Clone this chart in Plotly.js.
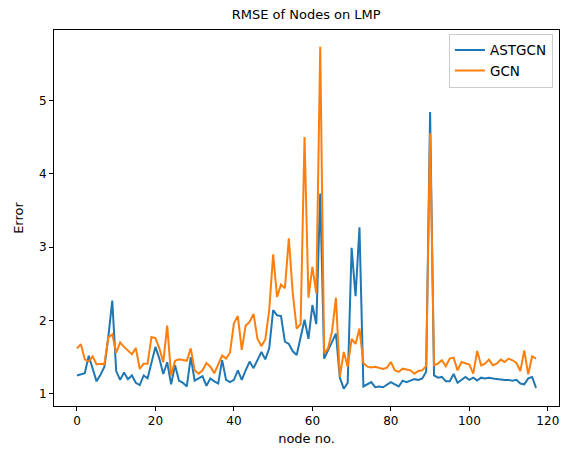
<!DOCTYPE html>
<html>
<head>
<meta charset="utf-8">
<script src="https://cdn.plot.ly/plotly-3.0.1.min.js"></script>
<style>html,body{margin:0;padding:0;background:#fff;}#chart{width:567px;height:450px;}</style>
</head>
<body>
<div id="chart"></div>
<script>
var seriesNames = ["ASTGCN", "GCN"];

var astgcn = [
  1.25, 1.26, 1.28, 1.52, 1.36, 1.17, 1.26, 1.37, 1.78, 2.27,
  1.31, 1.19, 1.29, 1.20, 1.25, 1.15, 1.12, 1.25, 1.21, 1.43,
  1.64, 1.48, 1.27, 1.43, 1.13, 1.39, 1.18, 1.15, 1.10, 1.50,
  1.18, 1.21, 1.24, 1.11, 1.21, 1.17, 1.14, 1.46, 1.19, 1.16,
  1.19, 1.32, 1.19, 1.32, 1.44, 1.35, 1.46, 1.57, 1.47, 1.62,
  2.14, 2.07, 2.06, 1.71, 1.68, 1.58, 1.53, 1.75, 2.01, 1.75,
  2.21, 1.95, 3.73, 1.48, 1.60, 1.72, 1.82, 1.22, 1.07, 1.15,
  2.99, 2.33, 3.27, 1.10, 1.13, 1.16, 1.09, 1.10, 1.09, 1.12,
  1.16, 1.13, 1.10, 1.18, 1.16, 1.18, 1.20, 1.19, 1.21, 1.30,
  4.84, 1.25, 1.22, 1.23, 1.17, 1.17, 1.27, 1.15, 1.19, 1.23,
  1.19, 1.22, 1.18, 1.22, 1.21, 1.22, 1.21, 1.20, 1.20, 1.19,
  1.19, 1.18, 1.19, 1.14, 1.13, 1.21, 1.23, 1.08
];

var gcn = [
  1.62, 1.675, 1.47, 1.44, 1.51, 1.40, 1.41, 1.405, 1.77, 1.81,
  1.56, 1.70, 1.64, 1.59, 1.54, 1.625, 1.34, 1.41, 1.41, 1.775,
  1.76, 1.62, 1.43, 1.93, 1.25, 1.45, 1.47, 1.46, 1.45, 1.62,
  1.32, 1.275, 1.32, 1.42, 1.37, 1.28, 1.39, 1.52, 1.48, 1.56,
  1.96, 2.06, 1.60, 1.93, 1.98, 2.09, 1.75, 1.65, 1.74, 2.14,
  2.90, 2.32, 2.49, 2.44, 3.12, 2.37, 1.89, 1.95, 4.50, 2.31,
  2.73, 2.37, 5.73, 1.55, 1.62, 1.85, 2.31, 1.23, 1.57, 1.37,
  1.75, 1.68, 1.89, 1.42, 1.37, 1.36, 1.37, 1.36, 1.34, 1.357,
  1.434, 1.32, 1.298, 1.343, 1.33, 1.32, 1.275, 1.311, 1.32, 1.38,
  4.55, 1.389, 1.412, 1.457, 1.375, 1.48, 1.493, 1.32, 1.434, 1.42,
  1.40, 1.275, 1.584, 1.389, 1.412, 1.466, 1.389, 1.412, 1.466, 1.434,
  1.48, 1.457, 1.42, 1.311, 1.593, 1.266, 1.512, 1.48
];

var nodes = astgcn.map(function (_, i) { return i; });

var xTicks = [0, 20, 40, 60, 80, 100, 120];
var yTicks = [1, 2, 3, 4, 5];

var colors = ["#1f77b4", "#ff7f0e"];

var traces = [
  {x: nodes, y: astgcn, name: seriesNames[0], type: "scatter", mode: "lines",
   line: {color: colors[0], width: 2}},
  {x: nodes, y: gcn, name: seriesNames[1], type: "scatter", mode: "lines",
   line: {color: colors[1], width: 2}}
];

var font = "DejaVu Sans, sans-serif";

var axisCommon = {
  showgrid: false, zeroline: false, showline: true, mirror: true,
  linecolor: "#000", linewidth: 1, ticks: "outside", ticklen: 4,
  tickwidth: 1, tickcolor: "#000",
  tickfont: {family: font, size: 12, color: "#000"}
};

var layout = {
  width: 567, height: 450,
  margin: {l: 54, r: 8, t: 30, b: 44, pad: 0},
  paper_bgcolor: "#fff", plot_bgcolor: "#fff",
  font: {family: font, size: 12, color: "#000"},
  title: {text: "RMSE of Nodes on LMP", font: {family: font, size: 13, color: "#000"},
          x: 0.54, xref: "container", xanchor: "center", y: 0.968, yref: "container", yanchor: "middle"},
  xaxis: Object.assign({}, axisCommon, {
    range: [-5.85, 122.85], tickmode: "array", tickvals: xTicks,
    ticktext: xTicks.map(String),
    title: {text: "node no.", font: {family: font, size: 13, color: "#000"}, standoff: 6}
  }),
  yaxis: Object.assign({}, axisCommon, {
    range: [0.834, 5.959], tickmode: "array", tickvals: yTicks,
    ticktext: yTicks.map(String),
    title: {text: "Error", font: {family: font, size: 13, color: "#000"}, standoff: 12}
  }),
  showlegend: true,
  legend: {x: 0.988, xanchor: "right", y: 0.99, yanchor: "top",
           bgcolor: "rgba(255,255,255,0.8)", bordercolor: "#cccccc", borderwidth: 1,
           font: {family: font, size: 13.5, color: "#000"}, itemwidth: 30, tracegroupgap: 0}
};

Plotly.newPlot("chart", traces, layout, {displayModeBar: false, staticPlot: true});
</script>
</body>
</html>
